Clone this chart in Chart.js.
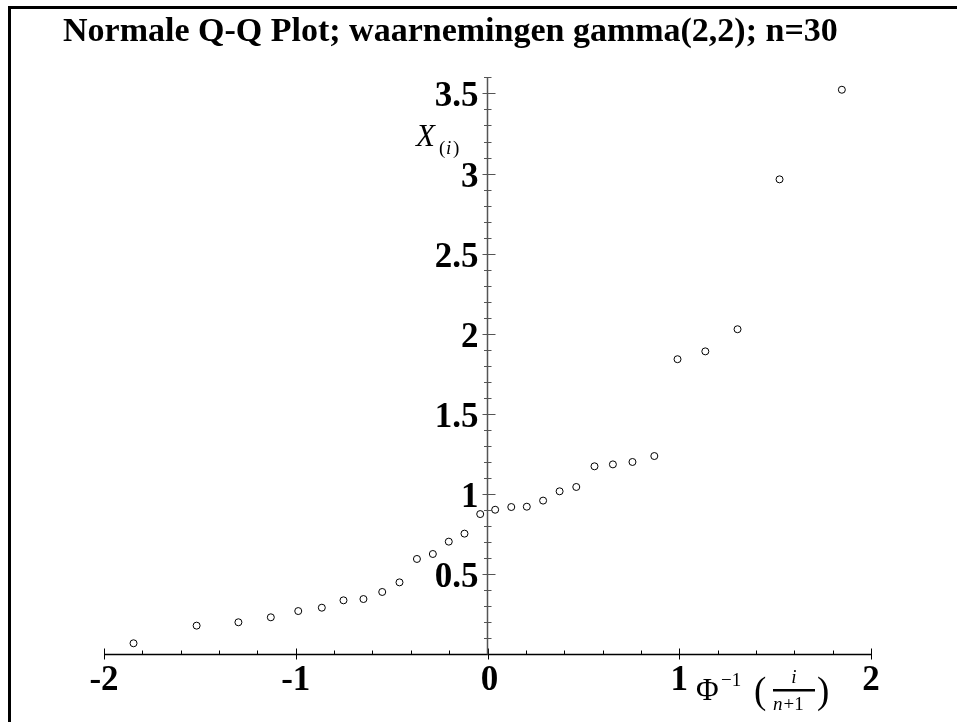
<!DOCTYPE html>
<html>
<head>
<meta charset="utf-8">
<script src="https://cdn.jsdelivr.net/npm/chart.js@4/dist/chart.umd.min.js"></script>
<style>
  html, body { margin: 0; padding: 0; background: #ffffff; }
  #wrap { width: 957px; height: 722px; }
</style>
</head>
<body>
<div id="wrap"><canvas id="c" width="957" height="722"></canvas></div>
<script>
// ---- data ----
const titleText = 'Normale Q-Q Plot; waarnemingen gamma(2,2); n=30';
const normalQuantiles = [-1.846, -1.517, -1.299, -1.130, -0.987, -0.864, -0.751, -0.647, -0.549, -0.459,
  -0.368, -0.285, -0.202, -0.120, -0.038, 0.040, 0.124, 0.205, 0.290, 0.376,
  0.463, 0.558, 0.654, 0.756, 0.870, 0.991, 1.136, 1.304, 1.523, 1.848];
const orderStats = [0.070, 0.180, 0.201, 0.232, 0.271, 0.292, 0.338, 0.346, 0.390, 0.450,
  0.596, 0.627, 0.704, 0.754, 0.876, 0.903, 0.920, 0.922, 0.960, 1.018,
  1.045, 1.174, 1.186, 1.201, 1.238, 1.842, 1.891, 2.029, 2.964, 3.523];
const xTickValues = [-2, -1, 0, 1, 2];
const xTickLabels = ['-2', '-1', '0', '1', '2'];
const yTickValues = [0.5, 1, 1.5, 2, 2.5, 3, 3.5];
const yTickLabels = ['0.5', '1', '1.5', '2', '2.5', '3', '3.5'];
const xRange = [-2, 2];
const yRange = [0, 3.6];

const points = normalQuantiles.map((q, i) => ({ x: q, y: orderStats[i] }));

const SERIF = '"Liberation Serif", "Times New Roman", serif';

const axesPlugin = {
  id: 'mapleAxes',
  beforeDatasetsDraw(chart) {
    const ctx = chart.ctx;
    const xs = chart.scales.x, ys = chart.scales.y;
    const x0 = xs.getPixelForValue(0);
    const y0 = ys.getPixelForValue(0);
    ctx.save();
    // frame
    ctx.fillStyle = '#000';
    ctx.fillRect(8, 6, 949, 3);
    ctx.fillRect(8, 6, 3, 716);
    // title
    ctx.font = 'bold 34px ' + SERIF;
    ctx.textAlign = 'left';
    ctx.textBaseline = 'alphabetic';
    ctx.fillText(titleText, 63, 41);

    // x axis
    ctx.strokeStyle = '#000';
    ctx.lineWidth = 1.5;
    ctx.beginPath();
    ctx.moveTo(xs.getPixelForValue(xRange[0]), y0);
    ctx.lineTo(xs.getPixelForValue(xRange[1]), y0);
    ctx.stroke();
    ctx.lineWidth = 1;
    for (let k = -10; k <= 10; k++) {
      const v = k / 5;
      const px = Math.round(xs.getPixelForValue(v)) + 0.5;
      ctx.beginPath();
      if (k % 5 === 0) { ctx.moveTo(px, y0 - 6); ctx.lineTo(px, y0 + 5); }
      else { ctx.moveTo(px, y0 - 4); ctx.lineTo(px, y0); }
      ctx.stroke();
    }
    // y axis
    ctx.strokeStyle = '#555';
    ctx.lineWidth = 1.5;
    ctx.beginPath();
    ctx.moveTo(x0, y0);
    ctx.lineTo(x0, ys.getPixelForValue(yRange[1]));
    ctx.stroke();
    ctx.lineWidth = 1;
    for (let k = 1; k <= 36; k++) {
      const v = k / 10;
      const py = Math.round(ys.getPixelForValue(v)) + 0.5;
      ctx.beginPath();
      if (k % 5 === 0) { ctx.moveTo(x0 - 5, py); ctx.lineTo(x0 + 8, py); }
      else { ctx.moveTo(x0 - 3.5, py); ctx.lineTo(x0 + 4, py); }
      ctx.stroke();
    }

    // tick labels
    ctx.fillStyle = '#000';
    ctx.font = 'bold 35px ' + SERIF;
    ctx.textAlign = 'center';
    xTickValues.forEach((v, i) => {
      ctx.fillText(xTickLabels[i], xs.getPixelForValue(v) + (v === 0 ? 2 : 0), y0 + 35);
    });
    ctx.textAlign = 'right';
    yTickValues.forEach((v, i) => {
      ctx.fillText(yTickLabels[i], x0 - 9, ys.getPixelForValue(v) + 13);
    });

    // y axis label X_(i)
    ctx.textAlign = 'left';
    ctx.font = 'italic 31px ' + SERIF;
    ctx.fillText('X', 416, 146);
    ctx.font = '19px ' + SERIF;
    ctx.fillText('(', 439, 154);
    ctx.font = 'italic 19px ' + SERIF;
    ctx.fillText('i', 446, 154);
    ctx.font = '19px ' + SERIF;
    ctx.fillText(')', 453, 154);

    // x axis label Phi^{-1}(i/(n+1))
    ctx.font = '31px ' + SERIF;
    ctx.fillText('\u03A6', 696, 700);
    ctx.font = '19px ' + SERIF;
    ctx.fillText('\u22121', 721, 686);
    ctx.font = '37px ' + SERIF;
    ctx.fillText('(', 754, 703);
    ctx.fillText(')', 817, 703);
    ctx.font = 'italic 19px ' + SERIF;
    ctx.textAlign = 'center';
    ctx.fillText('i', 794, 683);
    ctx.fillRect(773, 689, 42, 2.5);
    ctx.textAlign = 'left';
    ctx.fillText('n', 773, 710);
    const nw = ctx.measureText('n').width;
    ctx.font = '19px ' + SERIF;
    ctx.fillText('+1', 773 + nw + 1, 710);
    ctx.restore();
  }
};

new Chart(document.getElementById('c'), {
  type: 'scatter',
  data: {
    datasets: [{
      data: points,
      pointStyle: 'circle',
      pointRadius: 3.5,
      pointBorderWidth: 1,
      pointBorderColor: '#000',
      pointBackgroundColor: '#fff',
      showLine: false,
      clip: false
    }]
  },
  options: {
    responsive: false,
    animation: false,
    layout: { padding: { left: 104, right: 86, top: 77.4, bottom: 67.5 } },
    plugins: { legend: { display: false }, tooltip: { enabled: false }, title: { display: false } },
    scales: {
      x: { type: 'linear', min: xRange[0], max: xRange[1], display: false },
      y: { type: 'linear', min: yRange[0], max: yRange[1], display: false }
    }
  },
  plugins: [axesPlugin]
});
</script>
</body>
</html>
